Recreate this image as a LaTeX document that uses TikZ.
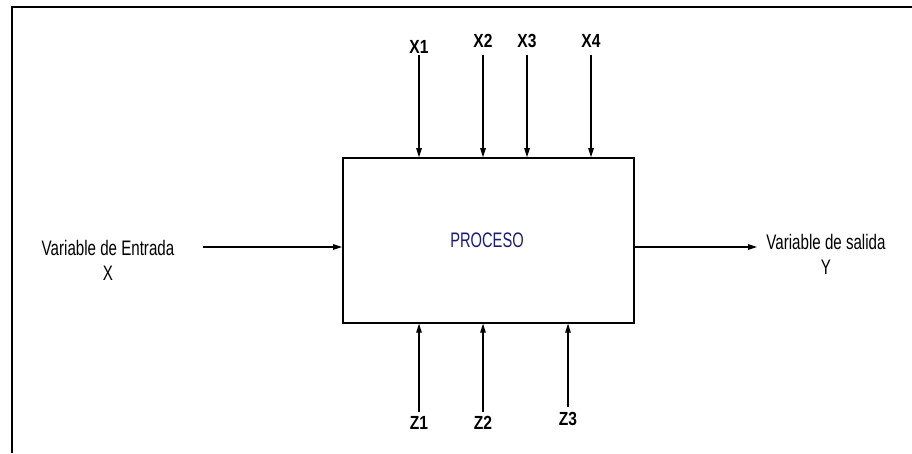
\documentclass[tikz,border=0pt]{standalone}
\usepackage{fontspec}
\setmainfont[FakeStretch=0.72]{Liberation Sans}
\newfontfamily\labfont[FakeStretch=0.82]{Liberation Sans}
\newfontfamily\procfont[FakeStretch=0.7]{Liberation Sans}
\usetikzlibrary{arrows.meta}
\definecolor{procblue}{HTML}{1C1C6E}
\tikzset{
  arr/.style={line width=1.2pt,-{Triangle[length=9pt,width=5.5pt]}},
  lbl/.style={font=\fontsize{21}{25}\selectfont,align=center,inner sep=0pt},
  vlbl/.style={font=\labfont\fontsize{19}{22}\selectfont\bfseries,inner sep=0pt},
  procbox/.style={draw,line width=1.4pt,minimum width=291pt,minimum height=165pt,inner sep=0pt}
}
\begin{document}
\begin{tikzpicture}[x=1pt,y=-1pt]
\useasboundingbox (0,0) rectangle (912,453);
\draw[line width=2pt] (12,453) -- (12,7) -- (912,7);
\node[procbox] (box) at (488.3,240.4) {};
\node[font=\procfont\fontsize{21}{24}\selectfont,text=procblue,inner sep=0pt] (proc) at (487,240) {PROCESO};
% top inputs
\node[vlbl] (x1) at (419,46.5) {X1};
\node[vlbl] (x2) at (483,40.5) {X2};
\node[vlbl] (x3) at (527,40.5) {X3};
\node[vlbl] (x4) at (591,40.5) {X4};
\coordinate (x1s) at (419,55);
\coordinate (x2s) at (483,55);
\coordinate (x3s) at (527,55);
\coordinate (x4s) at (591,55);
\draw[arr] (x1s) -- (x1s |- box.north);
\draw[arr] (x2s) -- (x2s |- box.north);
\draw[arr] (x3s) -- (x3s |- box.north);
\draw[arr] (x4s) -- (x4s |- box.north);
% bottom inputs
\node[vlbl] (z1) at (419,423) {Z1};
\node[vlbl] (z2) at (483,423) {Z2};
\node[vlbl] (z3) at (568,419) {Z3};
\coordinate (z1s) at (419,412);
\coordinate (z2s) at (483,412);
\coordinate (z3s) at (568,407);
\draw[arr] (z1s) -- (z1s |- box.south);
\draw[arr] (z2s) -- (z2s |- box.south);
\draw[arr] (z3s) -- (z3s |- box.south);
% left input
\node[lbl] (in) at (108,260) {Variable de Entrada\\X};
\coordinate (ins) at (203,247);
\draw[arr] (ins) -- (ins -| box.west);
% right output
\node[lbl] (out) at (826,254) {Variable de salida\\Y};
\coordinate (oute) at (757,247);
\draw[arr] (oute -| box.east) -- (oute);
\end{tikzpicture}
\end{document}
